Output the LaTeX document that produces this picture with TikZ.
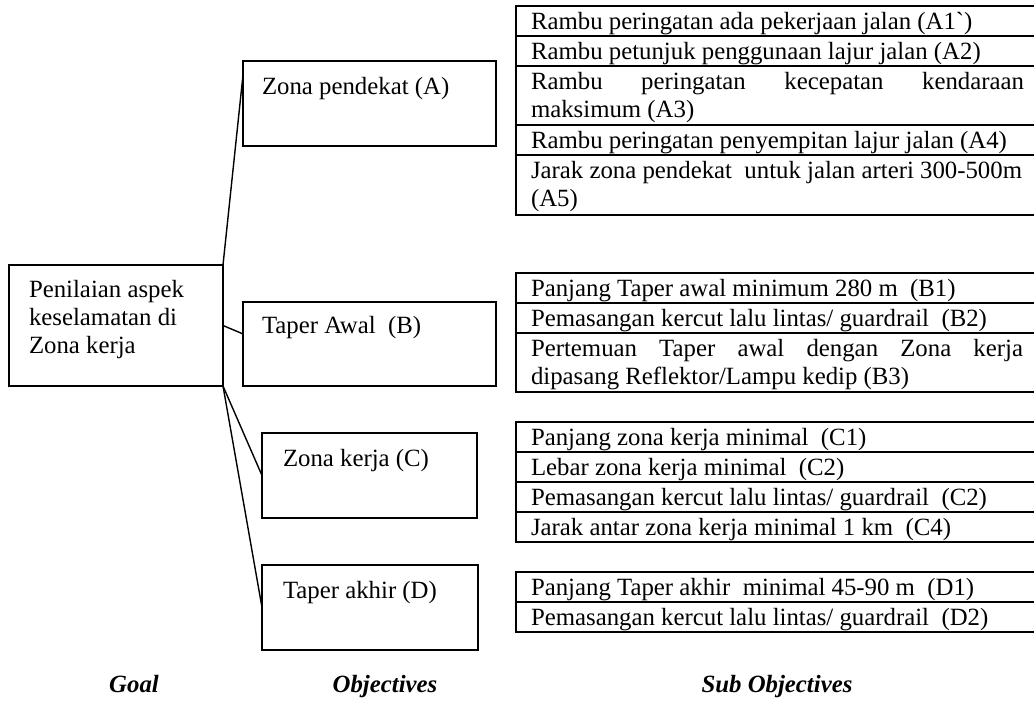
\documentclass[tikz,border=0pt]{standalone}
\usepackage{fontspec}
\setmainfont{Liberation Serif}
\usetikzlibrary{calc}
\newcommand\dgfont{\fontsize{24.8pt}{28pt}\selectfont}
\begin{document}
\begin{tikzpicture}[x=1pt,y=-1pt,
  box/.style={draw, line width=1.9pt, rectangle, inner sep=0pt, outer sep=0pt, anchor=north west},
  cell/.style={draw, line width=1.9pt, rectangle, inner sep=0pt, outer sep=0pt, anchor=north west, minimum width=560pt},
  txt/.style={anchor=base west, inner sep=0pt, outer sep=0pt, font=\dgfont},
  link/.style={line width=1.4pt},
  lbl/.style={anchor=base, inner sep=0pt, font=\dgfont\bfseries\itshape}]
\clip (0,0) rectangle (1034,702);
\fill[white] (0,0) rectangle (1034,702);
% Goal
\node[box, minimum width=214pt, minimum height=121pt] (goal) at (9,265) {};
\node[txt] (goalt) at ($(goal.north west)+(20,32)$)
  {\vtop{\hbox{Penilaian aspek}\hbox{keselamatan di}\hbox{Zona kerja}}};
% Objectives
\node[box, minimum width=253pt, minimum height=85pt] (A) at (243,61) {};
\node[box, minimum width=253pt, minimum height=84pt] (B) at (243,302) {};
\node[box, minimum width=215pt, minimum height=85pt] (C) at (262,433) {};
\node[box, minimum width=216pt, minimum height=85pt] (D) at (262,565) {};
\node[txt] (At) at ($(A.north west)+(19,33)$) {Zona pendekat (A)};
\node[txt] (Bt) at ($(B.north west)+(19,31)$) {Taper Awal\ \ (B)};
\node[txt] (Ct) at ($(C.north west)+(21,33)$) {Zona kerja (C)};
\node[txt] (Dt) at ($(D.north west)+(21,33)$) {Taper akhir (D)};
% Connectors
\draw[link] (goal.north east) -- ($(A.north west)!0.165!(A.south west)$);
\draw[link] (goal.east) -- ($(B.north west)!0.38!(B.south west)$);
\draw[link] (goal.south east) -- (C.west);
\draw[link] (goal.south east) -- (D.west);
% Sub objectives A
\node[cell, minimum height=30pt] (a1) at (516,6) {};
\node[cell, minimum height=30pt] (a2) at (516,36) {};
\node[cell, minimum height=59pt] (a3) at (516,66) {};
\node[cell, minimum height=30pt] (a4) at (516,125) {};
\node[cell, minimum height=60pt] (a5) at (516,155) {};
\node[txt] (a1t) at ($(a1.north west)+(15,23)$) {Rambu peringatan ada pekerjaan jalan (A1\textasciigrave)};
\node[txt] (a2t) at ($(a2.north west)+(15,23)$) {Rambu petunjuk penggunaan lajur jalan (A2)};
\node[txt] (a3t) at ($(a3.north west)+(15,23)$)
  {\vtop{\hbox to 493pt{Rambu\hfill peringatan\hfill kecepatan\hfill kendaraan}\hbox{maksimum (A3)}}};
\node[txt] (a4t) at ($(a4.north west)+(15,23)$) {Rambu peringatan penyempitan lajur jalan (A4)};
\node[txt] (a5t) at ($(a5.north west)+(15,23)$)
  {\vtop{\hbox{Jarak zona pendekat\ \ untuk jalan arteri 300-500m}\hbox{(A5)}}};
% Sub objectives B
\node[cell, minimum height=30pt] (b1) at (516,273) {};
\node[cell, minimum height=30pt] (b2) at (516,303) {};
\node[cell, minimum height=59pt] (b3) at (516,333) {};
\node[txt] (b1t) at ($(b1.north west)+(15,23)$) {Panjang Taper awal minimum 280 m\ \ (B1)};
\node[txt] (b2t) at ($(b2.north west)+(15,23)$) {Pemasangan kercut lalu lintas/ guardrail\ \ (B2)};
\node[txt] (b3t) at ($(b3.north west)+(15,23)$)
  {\vtop{\hbox to 492pt{Pertemuan\hfill Taper\hfill awal\hfill dengan\hfill Zona\hfill kerja}\hbox{dipasang Reflektor/Lampu kedip (B3)}}};
% Sub objectives C
\node[cell, minimum height=30pt] (c1) at (516,422) {};
\node[cell, minimum height=30pt] (c2) at (516,452) {};
\node[cell, minimum height=30pt] (c3) at (516,482) {};
\node[cell, minimum height=30pt] (c4) at (516,512) {};
\node[txt] (c1t) at ($(c1.north west)+(15,23)$) {Panjang zona kerja minimal\ \ (C1)};
\node[txt] (c2t) at ($(c2.north west)+(15,23)$) {Lebar zona kerja minimal\ \ (C2)};
\node[txt] (c3t) at ($(c3.north west)+(15,23)$) {Pemasangan kercut lalu lintas/ guardrail\ \ (C2)};
\node[txt] (c4t) at ($(c4.north west)+(15,23)$) {Jarak antar zona kerja minimal 1 km\ \ (C4)};
% Sub objectives D
\node[cell, minimum height=30pt] (d1) at (516,572) {};
\node[cell, minimum height=30pt] (d2) at (516,602) {};
\node[txt] (d1t) at ($(d1.north west)+(15,23)$) {Panjang Taper akhir\ \ minimal 45-90 m\ \ (D1)};
\node[txt] (d2t) at ($(d2.north west)+(15,23)$) {Pemasangan kercut lalu lintas/ guardrail\ \ (D2)};
% Column labels
\node[lbl] (lg) at (134,692) {Goal};
\node[lbl] (lo) at (385,692) {Objectives};
\node[lbl] (ls) at (777,692) {Sub Objectives};
\end{tikzpicture}
\end{document}
